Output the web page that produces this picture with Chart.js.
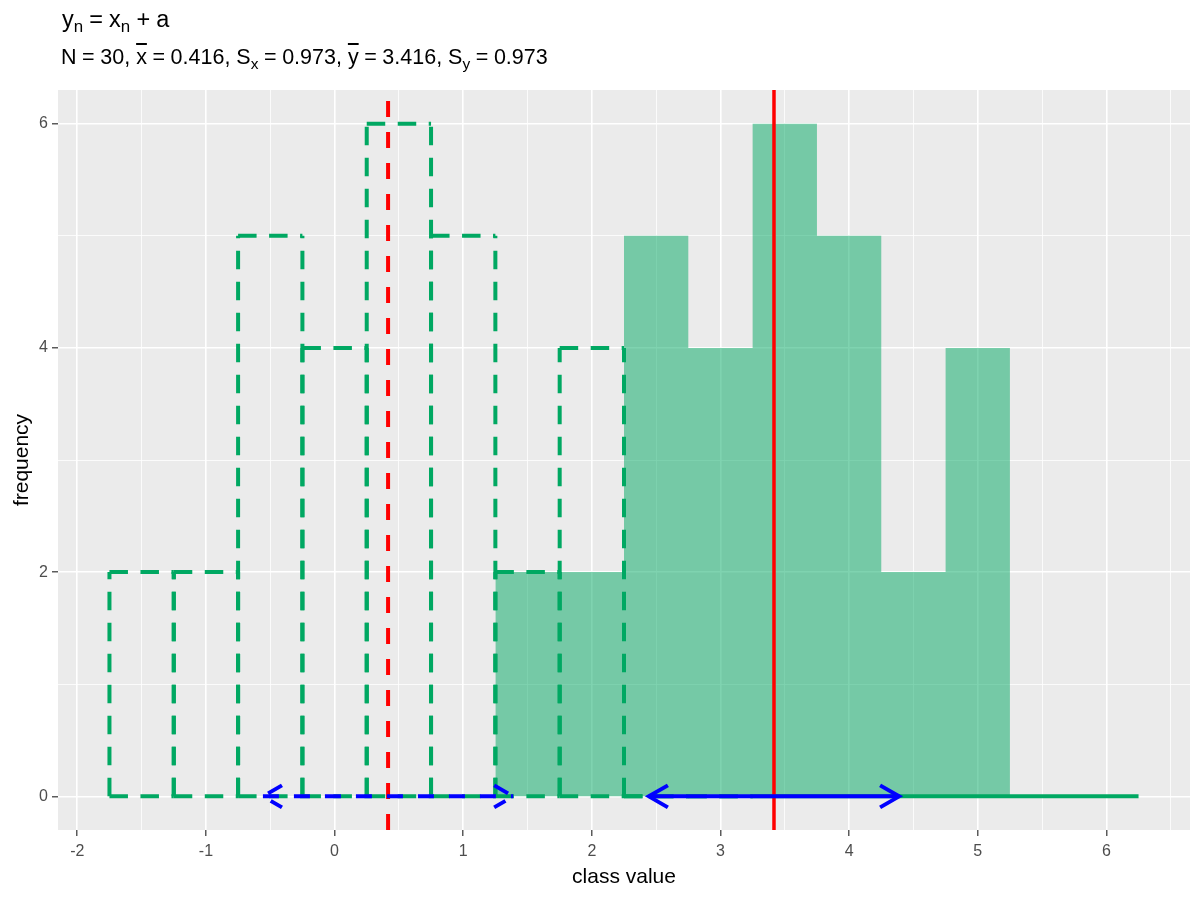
<!DOCTYPE html>
<html lang="en">

<head>
  <meta charset="UTF-8" />
  <title>Histogram shift</title>
  <script src="https://cdn.jsdelivr.net/npm/chart.js@4.4.1/dist/chart.umd.min.js"></script>
  <style>
    body { margin: 0; background: #fff; }
    #wrap { position: relative; width: 1200px; height: 900px; font-family: "Liberation Sans", Arial, sans-serif; }
    #title { position: absolute; left: 62px; top: 6px; font-size: 23.5px; color: #000; white-space: nowrap; }
    #subtitle { position: absolute; left: 61px; top: 45px; font-size: 21.5px; color: #000; white-space: nowrap; }
    sub { font-size: 72%; vertical-align: -0.3em; line-height: 0; }
    .ov { text-decoration: overline; }
    .op { margin: 0 0.26em; }
  </style>
</head>

<body>
  <div id="wrap">
    <div id="title">y<sub>n</sub><span class="op">=</span>x<sub>n</sub><span class="op">+</span>a</div>
    <div id="subtitle"></div>
    <canvas id="histChart" width="1200" height="900"></canvas>
  </div>

  <script>
    // histogram of x (dashed outline) and of y = x + a (filled)
    const xBinEdges = [-1.75, -1.25, -0.75, -0.25, 0.25, 0.75, 1.25, 1.75, 2.25, 2.75, 3.25];
    const xCounts = [2, 2, 5, 4, 6, 5, 2, 4, 0, 0];
    const yBinEdges = [1.25, 1.75, 2.25, 2.75, 3.25, 3.75, 4.25, 4.75, 5.25, 5.75, 6.25];
    const yCounts = [2, 2, 5, 4, 6, 5, 2, 4, 0, 0];

    // summary stats shown in the subtitle
    const nObs = 30;
    const meanX = 0.416, sdX = 0.973;
    const meanY = 3.416, sdY = 0.973;

    const xTickValues = [-2, -1, 0, 1, 2, 3, 4, 5, 6];
    const yTickValues = [0, 2, 4, 6];

    const GREEN = "rgb(0,168,98)";
    const GREEN_FILL = "rgba(0,168,98,0.5)";
    const X_MIN = -2.15, X_MAX = 6.65, Y_MIN = -0.3, Y_MAX = 6.3;

    const eq = '<span class="op">=</span>';
    document.getElementById("subtitle").innerHTML =
      `N${eq}${nObs}, <span class="ov">x</span>${eq}${meanX.toFixed(3)}, S<sub>x</sub>${eq}${sdX.toFixed(3)}, ` +
      `<span class="ov">y</span>${eq}${meanY.toFixed(3)}, S<sub>y</sub>${eq}${sdY.toFixed(3)}`;

    function stepPoints(edges, counts) {
      let pts = [{ x: edges[0], y: 0 }];
      counts.forEach((c, i) => {
        pts.push({ x: edges[i], y: c });
        pts.push({ x: edges[i + 1], y: c });
      });
      pts.push({ x: edges[edges.length - 1], y: 0 });
      return pts;
    }

    function lineDs(data, color, width, dash, order) {
      return {
        data: data,
        borderColor: color,
        borderWidth: width,
        borderDash: dash,
        borderCapStyle: "butt",
        borderJoinStyle: "miter",
        pointRadius: 0,
        tension: 0,
        fill: false,
        order: order,
      };
    }

    const datasets = [];

    // filled histogram for y
    datasets.push({
      data: stepPoints(yBinEdges, yCounts),
      backgroundColor: GREEN_FILL,
      borderWidth: 0,
      borderColor: "rgba(0,0,0,0)",
      pointRadius: 0,
      tension: 0,
      fill: "origin",
      order: 10,
    });
    // zero height part of y histogram past the x bins
    datasets.push(lineDs([{ x: xBinEdges[xBinEdges.length - 1], y: 0 }, { x: yBinEdges[yBinEdges.length - 1], y: 0 }], GREEN, 4, [], 9));

    // dashed outline bars for x, each edge dashed from its bottom / left end
    const greenDash = [18.5, 12.5];
    xCounts.forEach((c, i) => {
      let l = xBinEdges[i], r = xBinEdges[i + 1];
      datasets.push(lineDs([{ x: l, y: 0 }, { x: r, y: 0 }], GREEN, 4, greenDash, 5));
      datasets.push(lineDs([{ x: l, y: 0 }, { x: l, y: c }], GREEN, 4, greenDash, 5));
      datasets.push(lineDs([{ x: r, y: 0 }, { x: r, y: c }], GREEN, 4, greenDash, 5));
      datasets.push(lineDs([{ x: l, y: c }, { x: r, y: c }], GREEN, 4, greenDash, 5));
    });

    // mean lines
    datasets.push(lineDs([{ x: meanX, y: Y_MIN }, { x: meanX, y: Y_MAX }], "#FF0000", 4, [16, 15], 3));
    datasets.push(lineDs([{ x: meanY, y: Y_MIN }, { x: meanY, y: Y_MAX }], "#FF0000", 3.5, [], 3));

    // +/- one sd arrows
    const arrows = [
      { from: meanX - sdX, to: meanX + sdX, dash: [16, 15] },
      { from: meanY - sdY, to: meanY + sdY, dash: [] },
    ];
    arrows.forEach(a => {
      datasets.push(lineDs([{ x: a.from, y: 0 }, { x: a.to, y: 0 }], "#0000FF", 4, a.dash, 1));
    });

    const panelBg = {
      id: "panelBg",
      beforeDraw(chart) {
        const { ctx, chartArea } = chart;
        ctx.save();
        ctx.fillStyle = "#EBEBEB";
        ctx.fillRect(chartArea.left, chartArea.top, chartArea.right - chartArea.left, chartArea.bottom - chartArea.top);
        ctx.restore();
      }
    };

    const arrowHeads = {
      id: "arrowHeads",
      afterDatasetsDraw(chart) {
        const { ctx } = chart;
        const xs = chart.scales.x, ys = chart.scales.y;
        const len = 22, ang = Math.PI / 6;
        ctx.save();
        ctx.strokeStyle = "#0000FF";
        ctx.lineWidth = 4;
        ctx.lineCap = "butt";
        ctx.lineJoin = "miter";
        arrows.forEach(a => {
          ctx.setLineDash(a.dash);
          const py = ys.getPixelForValue(0);
          [[a.from, -1], [a.to, 1]].forEach(([v, dir]) => {
            const px = xs.getPixelForValue(v);
            ctx.beginPath();
            ctx.moveTo(px - dir * len * Math.cos(ang), py - len * Math.sin(ang));
            ctx.lineTo(px, py);
            ctx.lineTo(px - dir * len * Math.cos(ang), py + len * Math.sin(ang));
            ctx.stroke();
          });
        });
        ctx.restore();
      }
    };

    function withMinors(values, step, min, max) {
      let all = [];
      values.forEach(v => {
        [v - step / 2, v, v + step / 2].forEach(t => {
          if (t >= min && t <= max && !all.includes(t)) all.push(t);
        });
      });
      all.sort((a, b) => a - b);
      return all.map(v => ({ value: v }));
    }

    const axisFont = { family: "'Liberation Sans', Arial, sans-serif", size: 16 };
    const titleFont = { family: "'Liberation Sans', Arial, sans-serif", size: 21 };

    const histChart = new Chart(document.getElementById("histChart").getContext("2d"), {
      type: "line",
      data: { datasets: datasets },
      options: {
        responsive: false,
        animation: false,
        devicePixelRatio: 1,
        layout: { padding: { left: 0, right: 10, top: 90, bottom: 0 } },
        plugins: { legend: { display: false }, tooltip: { enabled: false } },
        scales: {
          x: {
            type: "linear",
            min: X_MIN,
            max: X_MAX,
            afterBuildTicks: (s) => { s.ticks = withMinors(xTickValues, 1, X_MIN, X_MAX); },
            afterFit: (s) => { s.height = 70; },
            border: { display: false },
            grid: {
              color: "#FFFFFF",
              lineWidth: (c) => xTickValues.includes(c.tick.value) ? 1.6 : 0.8,
              drawTicks: true,
              tickLength: 6,
              tickWidth: 1.2,
              tickColor: (c) => xTickValues.includes(c.tick.value) ? "#333333" : "rgba(0,0,0,0)",
            },
            ticks: {
              autoSkip: false,
              maxRotation: 0,
              color: "#4D4D4D",
              font: axisFont,
              padding: 6,
              callback: (v) => xTickValues.includes(v) ? String(v) : "",
            },
            title: { display: true, text: "class value", color: "#000", font: titleFont, padding: { top: 0, bottom: 10 } },
          },
          y: {
            min: Y_MIN,
            max: Y_MAX,
            afterBuildTicks: (s) => { s.ticks = withMinors(yTickValues, 2, Y_MIN, Y_MAX); },
            afterFit: (s) => { s.width = 58; },
            border: { display: false },
            grid: {
              color: "#FFFFFF",
              lineWidth: (c) => yTickValues.includes(c.tick.value) ? 1.6 : 0.8,
              drawTicks: true,
              tickLength: 6,
              tickWidth: 1.2,
              tickColor: (c) => yTickValues.includes(c.tick.value) ? "#333333" : "rgba(0,0,0,0)",
            },
            ticks: {
              autoSkip: false,
              color: "#4D4D4D",
              font: axisFont,
              padding: 4,
              callback: (v) => yTickValues.includes(v) ? String(v) : "",
            },
            title: { display: true, text: "frequency", color: "#000", font: titleFont, padding: { top: 10, bottom: 0 } },
          },
        },
      },
      plugins: [panelBg, arrowHeads],
    });
  </script>
</body>

</html>
